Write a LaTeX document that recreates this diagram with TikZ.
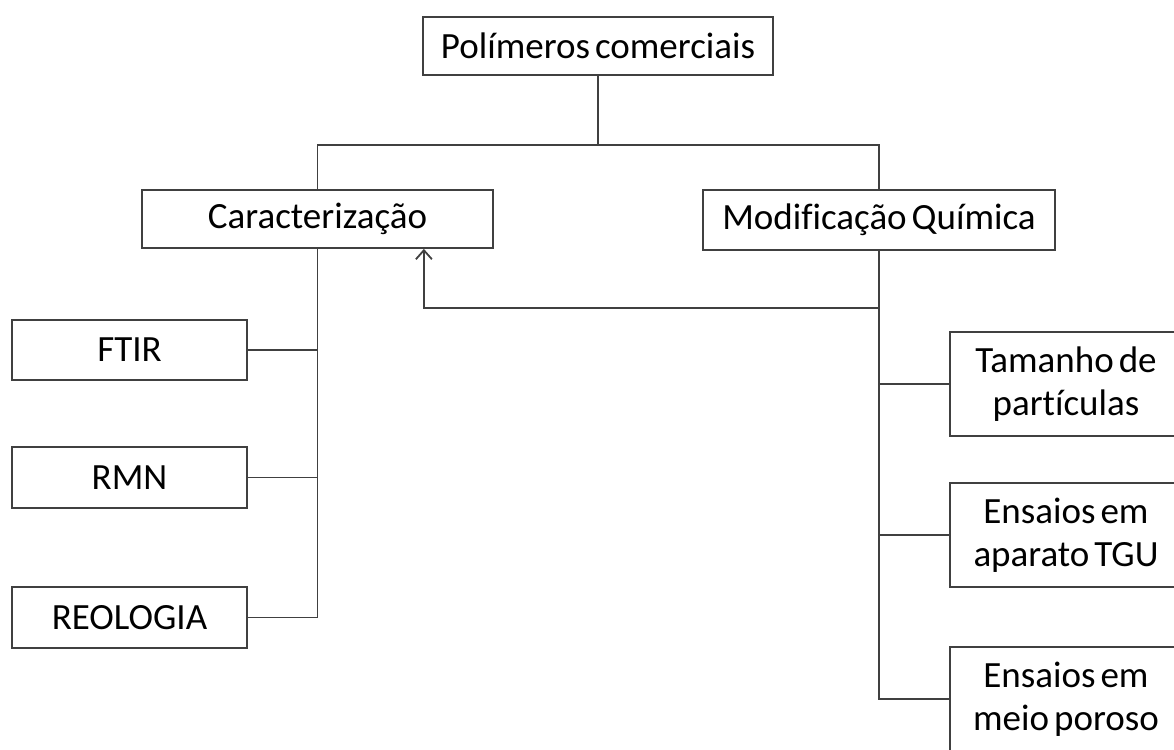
\documentclass[tikz,border=0pt]{standalone}
\usepackage{fontspec}
\setmainfont{Carlito}[WordSpace=0.6,Ligatures=NoCommon]
\usetikzlibrary{arrows.meta}
\begin{document}
\begin{tikzpicture}[x=1pt,y=-1pt,
  box/.style={rectangle,draw=black!75,line width=1.8pt,inner sep=0pt,align=center,
    font=\fontsize{37}{43}\selectfont},
  link/.style={draw=black!75,line width=1.8pt}]
  \useasboundingbox (0,0) rectangle (1174,749);
  \clip (0,0) rectangle (1174,749);
  \node[box,minimum width=350pt,minimum height=58pt] (poly) at (598,46) {Polímeros comerciais};
  \node[box,minimum width=351pt,minimum height=58pt] (carac) at (317.5,219) {Caracterização};
  \node[box,minimum width=352pt,minimum height=60pt] (modif) at (879,220) {Modificação Química};
  \node[box,minimum width=235pt,minimum height=60pt] (ftir) at (129.5,350) {FTIR};
  \node[box,minimum width=235pt,minimum height=61pt] (rmn) at (129.5,477.5) {RMN};
  \node[box,minimum width=235pt,minimum height=61pt] (reol) at (129.5,617.5) {REOLOGIA};
  \node[box,minimum width=232pt,minimum height=104pt] (tam) at (1066,384) {Tamanho de\\partículas};
  \node[box,minimum width=232pt,minimum height=104pt] (tgu) at (1066,535) {Ensaios em\\aparato TGU};
  \node[box,minimum width=232pt,minimum height=104pt] (poro) at (1066,699) {Ensaios em\\meio poroso};
  \coordinate (split) at (598,145);
  \coordinate (fork) at (879,308);
  \draw[link] (poly) -- (split);
  \draw[link] (carac) |- (split) -| (modif);
  \draw[link] (carac) |- (ftir);
  \draw[link] (carac) |- (rmn);
  \draw[link] (carac) |- (reol);
  \draw[link] (modif) |- (tam);
  \draw[link] (modif) |- (tgu);
  \draw[link] (modif) |- (poro);
  \draw[link,-{Straight Barb[length=9pt,width=16pt]}] (fork) -| ([xshift=-70pt]carac.south east);
\end{tikzpicture}
\end{document}
